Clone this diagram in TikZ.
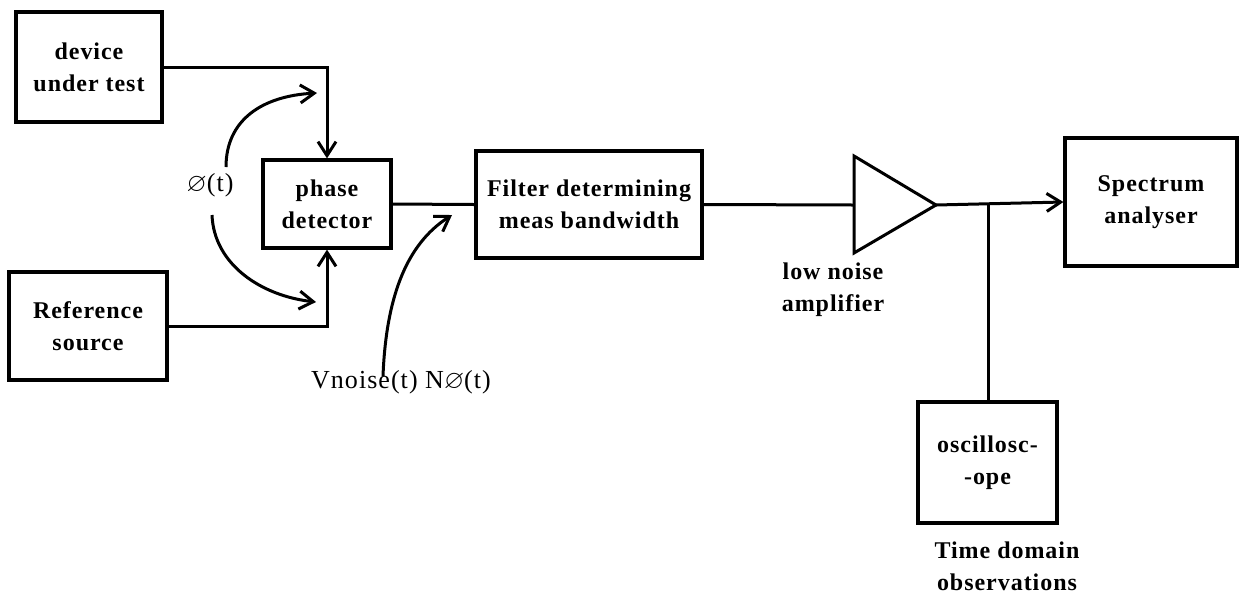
\documentclass[tikz,border=0pt]{standalone}
\usepackage{amssymb}
\usepackage{fontspec}
\setmainfont{Liberation Serif}
\usetikzlibrary{arrows.meta}
\tikzset{
  blk/.style={draw, line width=1.6pt, align=center, inner sep=0pt,
    font=\fontsize{12}{16}\selectfont\bfseries\addfontfeature{LetterSpace=4}},
  lbl/.style={align=center, inner sep=0pt,
    font=\fontsize{12}{16}\selectfont\bfseries\addfontfeature{LetterSpace=4}},
  plain/.style={inner sep=0pt, font=\fontsize{13}{16}\selectfont\addfontfeature{LetterSpace=4}},
  wire/.style={line width=1.5pt},
  arr/.style={line width=1.5pt, -{Straight Barb[length=7pt,width=9pt,line width=1.5pt]}},
}
\begin{document}
\begin{tikzpicture}[x=0.5pt,y=-0.5pt]
\useasboundingbox (0,0) rectangle (1242,596);
% boxes
\node[blk, minimum width=73pt, minimum height=55pt] (dut) at (89,67) {device\\under test};
\node[blk, minimum width=79pt, minimum height=54pt] (ref) at (88,326) {Reference\\source};
\node[blk, minimum width=64pt, minimum height=44pt] (pd) at (327,204) {phase\\detector};
\node[blk, minimum width=113pt, minimum height=53.5pt] (filt) at (589,204.5) {Filter determining\\meas bandwidth};
\node[blk, minimum width=86pt, minimum height=64pt] (spec) at (1151,202) {Spectrum\\analyser};
\node[blk, minimum width=69.5pt, minimum height=60.5pt] (osc) at (987.5,462.5) {oscillosc-\\-ope};
% amplifier
\coordinate (ampin) at (854,205);
\coordinate (ampout) at (936,205);
\draw[wire, line join=miter] (854,156) -- (ampout) -- (854,253) -- cycle;
\coordinate (tap) at (988,205);
% connections
\draw[arr] (dut.east) -| (pd.north);
\draw[arr] (ref.east) -| (pd.south);
\draw[wire] (pd.east) -- (filt.west);
\draw[wire] (filt.east) -- (ampin);
\draw[arr] (ampout) -- (spec.west);
\draw[wire] (tap) -- (tap |- osc.north);
% phase arcs
\node[plain] (phi) at (210,185) {$\varnothing$(t)};
\coordinate (a1s) at (226,167);
\coordinate (a1e) at (317,93);
\coordinate (a2s) at (212,215);
\coordinate (a2e) at (316,302);
\draw[arr] (a1s) .. controls (226,120) and (262,96) .. (a1e);
\draw[arr] (a2s) .. controls (214,265) and (262,296) .. (a2e);
% noise label and curve
\node[plain] (vn) at (401,382) {Vnoise(t) N$\varnothing$(t)};
\coordinate (ns) at (383,376);
\coordinate (ne) at (452,215);
\draw[arr] (ns) .. controls (386,300) and (405,245) .. (ne);
% other labels
\node[lbl] (lna) at (833,290) {low noise\\amplifier};
\node[lbl] (tdo) at (1007,566) {Time domain\\observations};
\end{tikzpicture}
\end{document}
